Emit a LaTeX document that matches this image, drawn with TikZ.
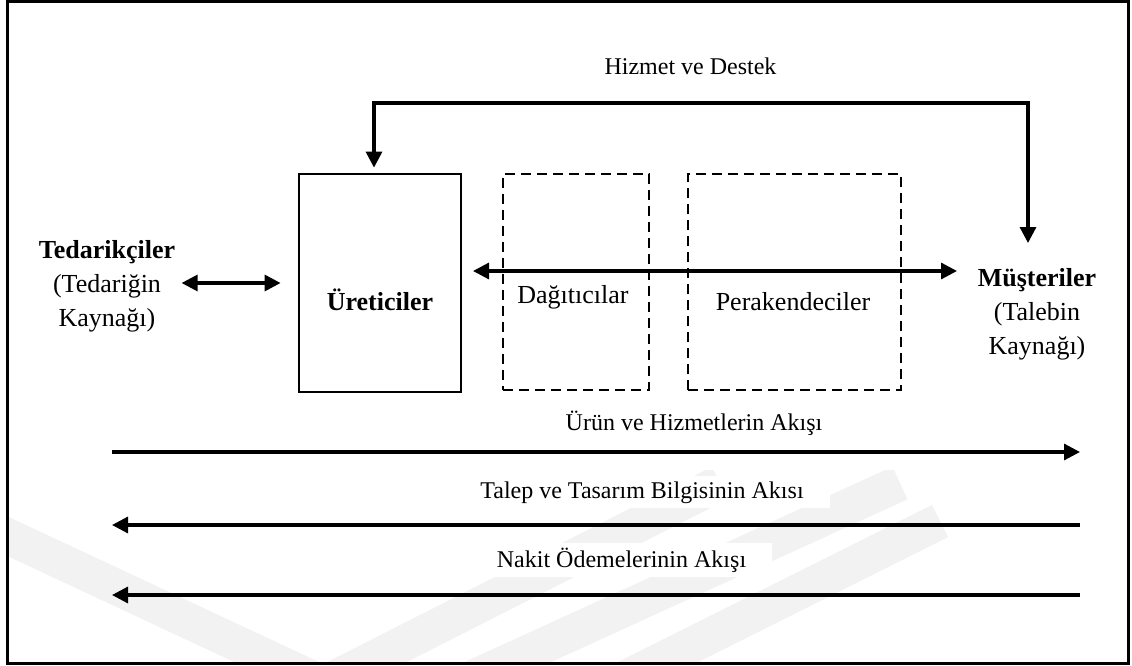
\documentclass[tikz,border=0pt]{standalone}
\usepackage{fontspec}
\setmainfont{Liberation Serif}
\usetikzlibrary{arrows.meta}
\begin{document}
\begin{tikzpicture}[x=1pt,y=-1pt,
  frame/.style={line width=3pt},
  solidbox/.style={draw,line width=2.8pt,inner sep=0pt},
  dashbox/.style={draw,line width=2.8pt,dash pattern=on 10pt off 6pt,inner sep=0pt},
  bigtext/.style={font=\fontsize{26}{34}\selectfont,inner sep=0pt},
  flowtext/.style={font=\fontsize{24}{30}\selectfont,fill=white,inner xsep=26pt,inner ysep=5pt},
  flow/.style={line width=3.2pt},
  onehead/.style={flow,-{Triangle[length=16pt,width=16pt]}},
  twohead/.style={flow,{Triangle[length=16pt,width=16pt]}-{Triangle[length=16pt,width=16pt]}},
  emblem/.style={draw=black!5,line width=36pt}
]
\useasboundingbox (0,0) rectangle (1132,666);

% faint background emblem, kept inside the frame
\begin{scope}
  \clip (9,470) rectangle (1126,661);
  \draw[emblem] (-100,486) -- (360,701);
  \draw[emblem] (300,696) -- (720,483);
  \draw[emblem] (440,693) -- (900,483);
  \draw[emblem] (600,691) -- (940,521);
\end{scope}

% outer frame
\draw[frame] (7,2) rectangle (1128,663);

% chain members
\node[solidbox,minimum width=162pt,minimum height=218pt] (uret) at (380,283) {};
\node[dashbox,minimum width=146pt,minimum height=216pt] (dag) at (576,282) {};
\node[dashbox,minimum width=213pt,minimum height=216pt] (per) at (794.5,282) {};

\node[bigtext,anchor=base] (uretT) at ([yshift=-27pt]uret.center) {\textbf{Üreticiler}};
\node[bigtext,anchor=base] (dagT) at ([xshift=-3pt,yshift=-21pt]dag.center) {Dağıtıcılar};
\node[bigtext,anchor=base] (perT) at ([xshift=-1.5pt,yshift=-28pt]per.center) {Perakendeciler};

\node[bigtext,align=center,anchor=north] (ted) at (107,240.5)
  {\textbf{Tedarikçiler}\\(Tedariğin\\Kaynağı)};
\node[bigtext,align=center,anchor=north] (mus) at (1037,268.5)
  {\textbf{Müşteriler}\\(Talebin\\Kaynağı)};

% flow labels
\node[flowtext,anchor=base] (hiz) at (690.5,75) {Hizmet ve Destek};
\node[flowtext,anchor=base] (urun) at (694,430) {Ürün ve Hizmetlerin Akışı};
\node[flowtext,anchor=base] (talep) at (642,498) {Talep ve Tasarım Bilgisinin Akısı};
\node[flowtext,anchor=base] (nakit) at (621.5,567) {Nakit Ödemelerinin Akışı};

% service and support loop
\coordinate (fbL) at (374,103);
\coordinate (fbR) at (1028,103);
\coordinate (musTop) at (1028,243);
\draw[twohead] ([yshift=5pt]uret.north -| fbL) -- (fbL) -- (fbR) -- (musTop);

% supplier link
\draw[twohead] ([xshift=-116pt]uret.west) -- ([xshift=-17pt]uret.west);

% link across the channel
\coordinate (midL) at (473,271);
\coordinate (midR) at (957,271);
\draw[twohead] (midL) -- (midR);

% flows along the chain
\coordinate (fL1) at (112,452);
\coordinate (fR1) at (1080,452);
\coordinate (fL2) at (112,525);
\coordinate (fR2) at (1080,525);
\coordinate (fL3) at (112,595);
\coordinate (fR3) at (1080,595);
\draw[onehead] (fL1) -- (fR1);
\draw[onehead] (fR2) -- (fL2);
\draw[onehead] (fR3) -- (fL3);
\end{tikzpicture}
\end{document}
